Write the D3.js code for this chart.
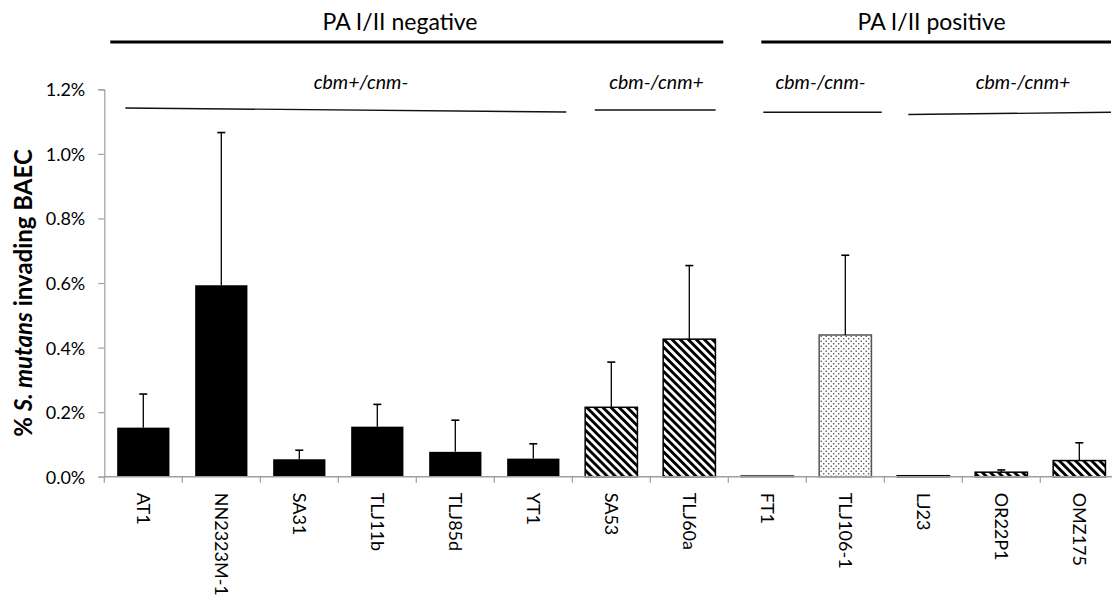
<!DOCTYPE html>
<html>
<head>
<meta charset="utf-8">
<script src="https://cdn.jsdelivr.net/npm/d3@7"></script>
<style>
  html, body { margin: 0; padding: 0; background: #fff; }
  svg text { font-family: Lato, "Open Sans", sans-serif; fill: #000; }
</style>
</head>
<body>
<svg id="chart" width="1112" height="600"></svg>
<script>
// Strains on the x axis
const categories = ["AT1", "NN2323M-1", "SA31", "TLJ11b", "TLJ85d", "YT1", "SA53", "TLJ60a",
                    "FT1", "TLJ106-1", "LJ23", "OR22P1", "OMZ175"];
// Mean invasion (% of inoculum)
const invasion = [0.152, 0.593, 0.054, 0.155, 0.077, 0.056, 0.215, 0.426,
                  0.003, 0.439, 0.003, 0.014, 0.050];
// Standard deviation (upper error bar)
const errorSD = [0.104, 0.473, 0.028, 0.069, 0.098, 0.046, 0.140, 0.228,
                 0.000, 0.247, 0.000, 0.007, 0.055];
// Fill style per strain
const fillType = ["solid", "solid", "solid", "solid", "solid", "solid", "hatch", "hatch",
                  "dots", "dots", "hatch", "hatch", "hatch"];
const yTicks = [0, 0.2, 0.4, 0.6, 0.8, 1.0, 1.2];

// PA I/II groups: label, first strain, last strain
const paGroups = [
  ["PA I/II negative", "AT1", "TLJ60a"],
  ["PA I/II positive", "FT1", "OMZ175"]
];
// cbm / cnm genotype groups
const genoGroups = [
  ["cbm+/cnm-", "AT1", "YT1"],
  ["cbm-/cnm+", "SA53", "TLJ60a"],
  ["cbm-/cnm-", "FT1", "TLJ106-1"],
  ["cbm-/cnm+", "LJ23", "OMZ175"]
];

const W = 1112, H = 600;
const svg = d3.select("#chart");

const x = d3.scaleBand().domain(categories).range([104.3, 1118.3])
  .paddingInner(0.33).paddingOuter(0.165);
const y = d3.scaleLinear().domain([0, 1.2]).range([476.7, 89.3]);
const step = x.step();
const bandStart = c => x(c) - x.paddingOuter() * step;
const bandEnd = c => bandStart(c) + step;

// fill patterns
const defs = svg.append("defs");
const hatch = defs.append("pattern").attr("id", "hatch")
  .attr("patternUnits", "userSpaceOnUse").attr("width", 5.7).attr("height", 10)
  .attr("patternTransform", "rotate(-45)");
hatch.append("rect").attr("width", 5.7).attr("height", 10).attr("fill", "#fff");
hatch.append("rect").attr("width", 2.9).attr("height", 10).attr("fill", "#000");

const dots = defs.append("pattern").attr("id", "dots")
  .attr("patternUnits", "userSpaceOnUse").attr("width", 5).attr("height", 5);
dots.append("rect").attr("width", 5).attr("height", 5).attr("fill", "#fff");
dots.append("circle").attr("cx", 1.2).attr("cy", 1.2).attr("r", 0.8).attr("fill", "#444");
dots.append("circle").attr("cx", 3.7).attr("cy", 3.7).attr("r", 0.8).attr("fill", "#444");

const axisGray = "#a0a0a0";

// y axis
const yAxis = svg.append("g").attr("transform", `translate(104.3,0)`)
  .call(d3.axisLeft(y).tickValues(yTicks).tickSize(6).tickPadding(13)
    .tickFormat(d => d.toFixed(1) + "%"));
yAxis.select(".domain").attr("stroke", axisGray).attr("stroke-width", 1.2);
yAxis.selectAll(".tick line").attr("stroke", axisGray).attr("stroke-width", 1.2);
yAxis.selectAll(".tick text").style("font-size", "18px").attr("dy", "0.36em");
yAxis.append("line").attr("x1", 0).attr("x2", 0).attr("y1", y(0)).attr("y2", y(0) + 6)
  .attr("stroke", axisGray).attr("stroke-width", 1.2);

// y axis title
svg.append("text")
  .attr("transform", `translate(32,293) rotate(-90)`)
  .attr("text-anchor", "middle")
  .style("font-size", "24px").style("font-weight", "bold")
  .call(t => {
    t.append("tspan").text("% ");
    t.append("tspan").style("font-style", "italic").text("S. mutans");
    t.append("tspan").text(" invading BAEC");
  });

// bars
svg.append("g").selectAll("rect").data(categories).join("rect")
  .attr("x", c => x(c))
  .attr("width", x.bandwidth())
  .attr("y", (c, i) => y(invasion[i]))
  .attr("height", (c, i) => y(0) - y(invasion[i]))
  .attr("fill", (c, i) => fillType[i] === "solid" ? "#000" : `url(#${fillType[i]})`)
  .attr("stroke", (c, i) => fillType[i] === "dots" ? "#555" : "#000")
  .attr("stroke-width", (c, i) => fillType[i] === "solid" ? 0 : 1.5);

// error bars (upper only)
const err = svg.append("g").attr("stroke", "#000").attr("stroke-width", 1.3);
categories.forEach((c, i) => {
  if (errorSD[i] <= 0) return;
  const cx = x(c) + x.bandwidth() / 2;
  const top = y(invasion[i] + errorSD[i]);
  err.append("line").attr("x1", cx).attr("x2", cx).attr("y1", y(invasion[i])).attr("y2", top);
  err.append("line").attr("x1", cx - 4).attr("x2", cx + 4).attr("y1", top).attr("y2", top)
    .attr("stroke-width", 1.6);
});

// x axis
const xAxisG = svg.append("g").attr("transform", `translate(0,${y(0)})`);
xAxisG.append("line").attr("x1", 104.3).attr("x2", W).attr("y1", 0).attr("y2", 0)
  .attr("stroke", axisGray).attr("stroke-width", 1.5);
xAxisG.selectAll("line.tk").data(categories).join("line").attr("class", "tk")
  .attr("x1", c => bandEnd(c)).attr("x2", c => bandEnd(c))
  .attr("y1", 0).attr("y2", 6).attr("stroke", axisGray).attr("stroke-width", 1.2);
xAxisG.selectAll("text").data(categories).join("text")
  .attr("transform", c => `translate(${x(c) + x.bandwidth() / 2},16) rotate(90)`)
  .attr("dy", "0.35em")
  .style("font-size", "18px")
  .text(c => c);

// PA I/II group headers
const paInset = [[6, -5], [33, 0]];
const paTextX = [400, 931.6];
paGroups.forEach(([label, a, b], i) => {
  const x1 = bandStart(a) + paInset[i][0];
  const x2 = Math.min(bandEnd(b) + paInset[i][1], W - 1);
  svg.append("line").attr("x1", x1).attr("x2", x2).attr("y1", 42).attr("y2", 42)
    .attr("stroke", "#000").attr("stroke-width", 3);
  svg.append("text").attr("x", paTextX[i]).attr("y", 29.5)
    .attr("text-anchor", "middle").style("font-size", "23px").text(label);
});

// genotype subgroup headers
const genoInset = [[21, -6, 108, 112], [22.5, -12.7, 110, 110], [35, -2.6, 112.3, 112.3], [24, 0, 114.5, 112.3]];
const genoTextX = [361, 656.5, 820.5, 1023];
genoGroups.forEach(([label, a, b], i) => {
  const g = genoInset[i];
  const x1 = bandStart(a) + g[0];
  const x2 = Math.min(bandEnd(b) + g[1], W - 1);
  svg.append("line").attr("x1", x1).attr("x2", x2).attr("y1", g[2]).attr("y2", g[3])
    .attr("stroke", "#111").attr("stroke-width", 1.4);
  svg.append("text").attr("x", genoTextX[i]).attr("y", 89)
    .attr("text-anchor", "middle").style("font-size", "19.5px").style("font-style", "italic")
    .text(label);
});
</script>
</body>
</html>
